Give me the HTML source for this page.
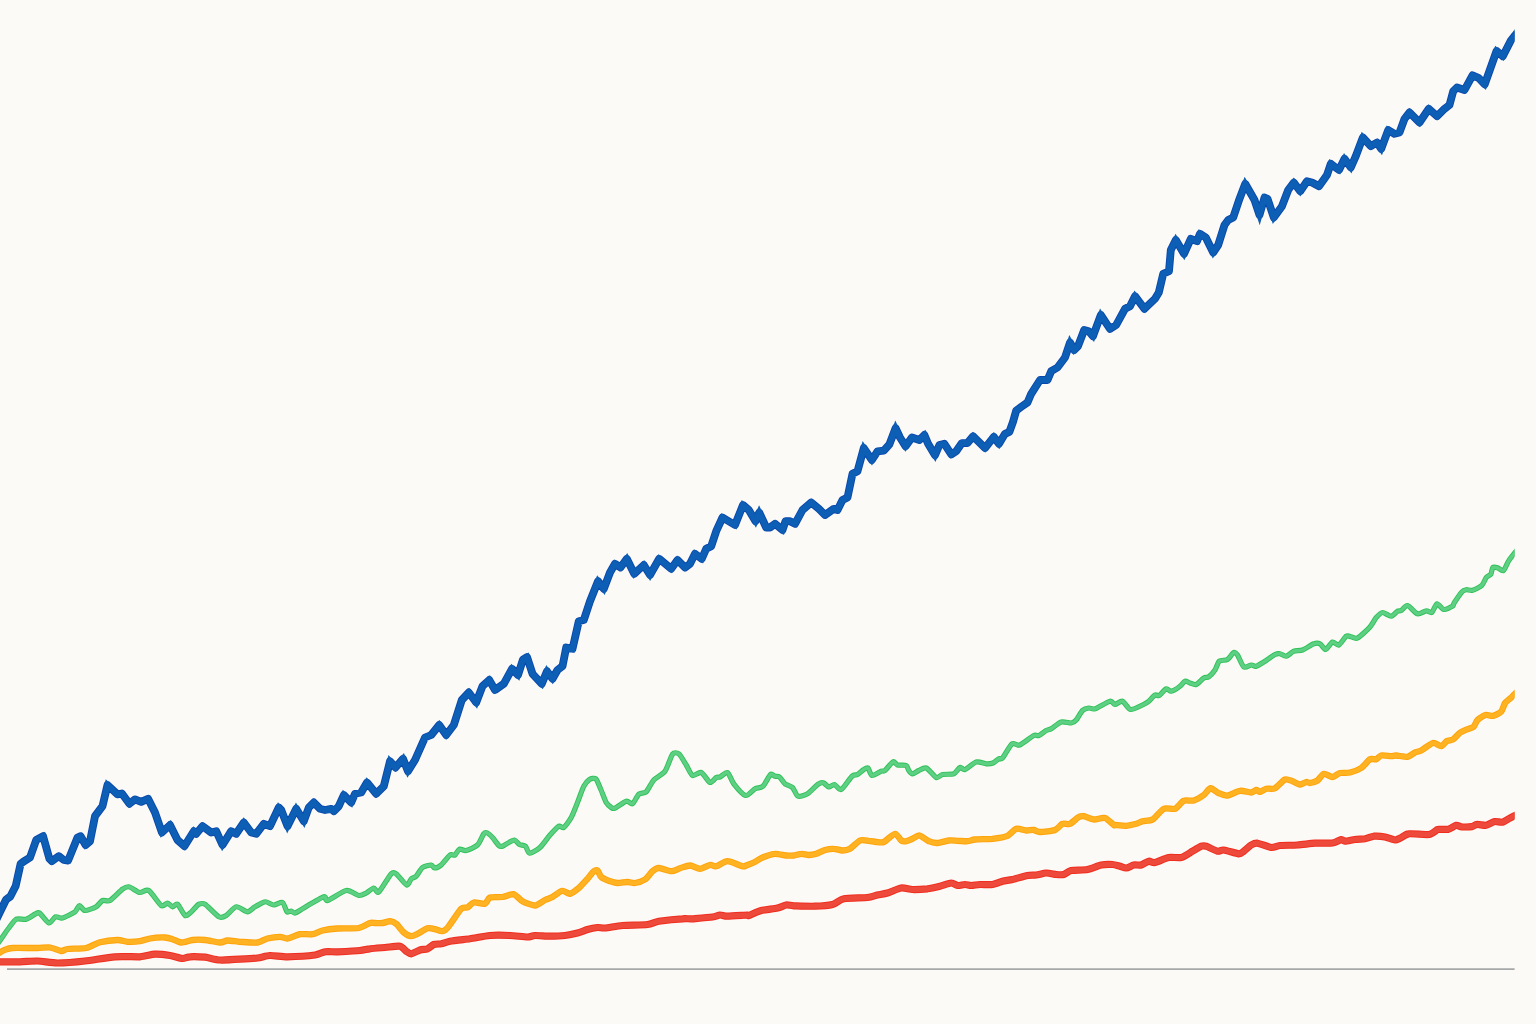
<!DOCTYPE html>
<html>
<head>
<meta charset="utf-8">
<title>Line chart</title>
<style>
html,body{margin:0;padding:0;background:#FBFAF7;}
body{width:1536px;height:1024px;overflow:hidden;font-family:"Liberation Sans",sans-serif;}
svg{display:block;position:absolute;left:0;top:0;}
.l{fill:none;stroke-linecap:butt;}
</style>
</head>
<body>
<svg width="1536" height="1024" viewBox="0 0 1536 1024">
<defs><clipPath id="c"><rect x="0" y="0" width="1514.6" height="1024"/></clipPath></defs>
<rect x="0" y="0" width="1536" height="1024" fill="#FBFAF7"/>
<line x1="7" y1="969.1" x2="1514.6" y2="969.1" stroke="#A6A7A8" stroke-width="1.9"/>
<g clip-path="url(#c)">
<path class="l" d="M-6.0,961.8 C-5.3,961.8 -3.1,961.8 0.0,961.8 C3.1,961.8 15.5,961.8 20.0,961.8 C24.5,961.7 33.0,960.9 37.5,961.0 C42.0,961.1 51.8,963.0 57.5,963.0 C63.2,963.0 78.1,961.8 85.0,961.0 C91.9,960.2 108.4,957.3 115.0,956.8 C121.6,956.2 135.2,957.0 140.0,956.8 C144.8,956.5 151.4,954.4 155.0,954.2 C158.6,954.1 166.7,955.0 170.0,955.5 C173.3,956.0 180.1,958.4 182.5,958.5 C184.9,958.6 187.3,956.9 190.0,956.8 C192.7,956.6 201.4,956.9 205.0,957.2 C208.6,957.6 215.8,959.8 220.0,960.0 C224.2,960.2 235.5,959.5 240.0,959.2 C244.5,959.0 253.9,958.5 257.5,958.0 C261.1,957.5 266.4,955.6 270.0,955.5 C273.6,955.4 282.1,956.8 287.5,956.8 C292.9,956.7 310.5,955.6 315.0,955.0 C319.5,954.4 322.3,952.1 325.0,951.8 C327.7,951.4 333.3,951.9 337.5,951.8 C341.7,951.6 356.1,950.9 360.0,950.5 C363.9,950.1 367.0,949.1 370.0,948.8 C373.0,948.4 381.4,947.8 385.0,947.5 C388.6,947.2 397.4,945.8 400.0,946.2 C402.6,946.7 404.9,950.4 406.2,951.2 C407.6,952.1 409.6,953.9 411.2,953.8 C412.9,953.6 418.1,950.6 420.0,950.0 C421.9,949.4 425.9,949.4 427.5,948.8 C429.1,948.1 432.1,945.1 433.8,944.5 C435.4,943.9 439.3,944.1 441.2,943.8 C443.2,943.4 446.6,941.9 450.0,941.2 C453.4,940.6 465.2,939.4 470.0,938.8 C474.8,938.1 485.2,935.9 490.0,935.5 C494.8,935.1 505.5,935.3 510.0,935.5 C514.5,935.7 524.5,937.0 527.5,937.0 C530.5,937.0 532.3,935.6 535.0,935.5 C537.7,935.4 546.4,936.2 550.0,936.2 C553.6,936.2 561.7,935.9 565.0,935.5 C568.3,935.1 574.8,933.7 577.5,933.0 C580.2,932.3 585.1,930.2 587.5,929.5 C589.9,928.8 595.4,927.7 597.5,927.5 C599.6,927.3 602.0,928.2 605.0,928.0 C608.0,927.8 617.4,925.9 622.5,925.5 C627.6,925.1 643.1,925.0 647.5,924.5 C651.9,924.0 654.5,921.9 658.8,921.2 C663.0,920.6 678.5,919.0 682.5,918.8 C686.5,918.5 688.9,919.0 692.5,918.8 C696.1,918.5 709.2,917.5 712.5,917.0 C715.8,916.5 718.2,915.1 720.0,915.0 C721.8,914.9 724.2,916.2 727.5,916.2 C730.8,916.2 745.0,915.1 747.5,915.0 C750.0,914.9 747.1,916.0 748.8,915.5 C750.4,915.0 757.8,911.4 761.2,910.5 C764.7,909.6 774.5,908.7 777.5,908.0 C780.5,907.3 784.3,905.3 786.2,905.0 C788.2,904.7 790.3,905.6 793.8,905.8 C797.2,905.9 810.4,906.4 815.0,906.2 C819.6,906.1 829.0,905.4 832.5,904.5 C836.0,903.6 839.5,899.6 843.8,898.8 C848.0,897.9 863.5,898.0 867.5,897.5 C871.5,897.0 875.1,895.5 877.5,895.0 C879.9,894.5 884.6,893.8 887.5,893.0 C890.4,892.2 898.2,888.4 901.2,888.0 C904.2,887.6 909.4,889.4 912.5,889.5 C915.6,889.6 924.2,889.1 927.5,888.8 C930.8,888.4 937.1,886.9 940.0,886.2 C942.9,885.6 949.1,883.1 951.2,883.0 C953.4,882.9 955.9,885.3 957.5,885.5 C959.1,885.7 963.4,884.5 965.0,884.5 C966.6,884.5 969.5,885.5 971.2,885.5 C973.0,885.5 977.5,884.6 980.0,884.5 C982.5,884.4 989.8,884.9 992.5,884.5 C995.2,884.1 1000.1,881.9 1002.5,881.2 C1004.9,880.6 1009.5,880.2 1012.5,879.5 C1015.5,878.8 1024.7,876.0 1027.5,875.5 C1030.3,875.0 1034.0,875.3 1036.2,875.0 C1038.5,874.7 1043.8,873.1 1046.2,873.0 C1048.7,872.9 1054.2,874.3 1056.2,874.5 C1058.3,874.7 1062.0,875.0 1063.8,874.5 C1065.5,874.0 1068.4,871.1 1071.2,870.5 C1074.1,869.9 1083.9,870.2 1087.5,869.5 C1091.1,868.8 1098.2,865.6 1101.2,865.0 C1104.2,864.4 1110.2,864.4 1112.5,864.5 C1114.8,864.6 1118.3,865.8 1120.0,866.2 C1121.7,866.7 1124.6,868.1 1126.2,868.0 C1127.9,867.9 1132.0,865.4 1133.8,865.0 C1135.5,864.6 1139.5,865.5 1141.2,865.0 C1143.0,864.5 1147.1,861.5 1148.8,861.2 C1150.4,861.0 1152.6,863.0 1155.0,862.5 C1157.4,862.0 1165.6,858.1 1168.8,857.5 C1171.9,856.9 1178.4,858.2 1181.2,857.5 C1184.1,856.8 1190.1,852.6 1192.5,851.2 C1194.9,849.9 1199.6,846.9 1201.2,846.2 C1202.9,845.6 1204.3,845.6 1206.2,846.2 C1208.2,846.9 1215.4,850.8 1217.5,851.2 C1219.6,851.7 1221.2,849.7 1223.8,850.0 C1226.3,850.3 1236.3,853.6 1238.8,853.8 C1241.2,853.9 1242.2,852.3 1243.8,851.2 C1245.2,850.2 1249.6,846.0 1251.2,845.0 C1252.9,844.0 1255.1,843.0 1257.5,843.2 C1259.9,843.5 1268.5,847.2 1271.2,847.5 C1274.0,847.8 1276.8,845.8 1280.0,845.5 C1283.2,845.2 1293.3,845.3 1297.5,845.0 C1301.7,844.7 1310.8,843.5 1315.0,843.2 C1319.2,843.0 1329.3,843.5 1332.5,843.0 C1335.7,842.5 1339.8,839.7 1341.2,839.5 C1342.8,839.3 1343.3,841.2 1345.0,841.2 C1346.7,841.2 1352.6,839.8 1355.0,839.5 C1357.4,839.2 1362.8,839.1 1365.0,838.8 C1367.2,838.4 1371.3,836.5 1373.8,836.2 C1376.2,836.0 1382.5,836.5 1385.0,837.0 C1387.5,837.5 1393.2,839.9 1395.0,840.0 C1396.8,840.1 1398.3,839.0 1400.0,838.2 C1401.7,837.5 1405.3,834.2 1408.8,833.8 C1412.2,833.3 1425.3,835.0 1428.8,834.5 C1432.2,834.0 1436.2,830.1 1437.5,829.5 C1438.8,828.9 1438.7,829.4 1440.0,829.4 C1441.3,829.3 1446.8,829.5 1448.8,829.1 C1450.7,828.6 1454.7,825.6 1456.2,825.3 C1457.8,825.0 1460.0,826.7 1461.9,826.9 C1463.8,827.0 1470.1,826.9 1471.9,826.6 C1473.7,826.3 1475.2,824.5 1476.9,824.4 C1478.6,824.2 1484.2,825.6 1486.2,825.3 C1488.3,825.0 1492.4,821.9 1494.4,821.6 C1496.3,821.2 1500.7,822.6 1502.5,822.2 C1504.3,821.8 1507.9,819.2 1509.4,818.4 C1510.8,817.6 1513.3,816.4 1514.7,815.6 C1516.1,814.9 1520.5,812.6 1521.2,812.2" stroke="#EF2E20" stroke-width="7.2" stroke-linejoin="round"/>
<path class="l" d="M-6.0,961.8 C-5.3,961.8 -3.1,961.8 0.0,961.8 C3.1,961.8 15.5,961.8 20.0,961.8 C24.5,961.7 33.0,960.9 37.5,961.0 C42.0,961.1 51.8,963.0 57.5,963.0 C63.2,963.0 78.1,961.8 85.0,961.0 C91.9,960.2 108.4,957.3 115.0,956.8 C121.6,956.2 135.2,957.0 140.0,956.8 C144.8,956.5 151.4,954.4 155.0,954.2 C158.6,954.1 166.7,955.0 170.0,955.5 C173.3,956.0 180.1,958.4 182.5,958.5 C184.9,958.6 187.3,956.9 190.0,956.8 C192.7,956.6 201.4,956.9 205.0,957.2 C208.6,957.6 215.8,959.8 220.0,960.0 C224.2,960.2 235.5,959.5 240.0,959.2 C244.5,959.0 253.9,958.5 257.5,958.0 C261.1,957.5 266.4,955.6 270.0,955.5 C273.6,955.4 282.1,956.8 287.5,956.8 C292.9,956.7 310.5,955.6 315.0,955.0 C319.5,954.4 322.3,952.1 325.0,951.8 C327.7,951.4 333.3,951.9 337.5,951.8 C341.7,951.6 356.1,950.9 360.0,950.5 C363.9,950.1 367.0,949.1 370.0,948.8 C373.0,948.4 381.4,947.8 385.0,947.5 C388.6,947.2 397.4,945.8 400.0,946.2 C402.6,946.7 404.9,950.4 406.2,951.2 C407.6,952.1 409.6,953.9 411.2,953.8 C412.9,953.6 418.1,950.6 420.0,950.0 C421.9,949.4 425.9,949.4 427.5,948.8 C429.1,948.1 432.1,945.1 433.8,944.5 C435.4,943.9 439.3,944.1 441.2,943.8 C443.2,943.4 446.6,941.9 450.0,941.2 C453.4,940.6 465.2,939.4 470.0,938.8 C474.8,938.1 485.2,935.9 490.0,935.5 C494.8,935.1 505.5,935.3 510.0,935.5 C514.5,935.7 524.5,937.0 527.5,937.0 C530.5,937.0 532.3,935.6 535.0,935.5 C537.7,935.4 546.4,936.2 550.0,936.2 C553.6,936.2 561.7,935.9 565.0,935.5 C568.3,935.1 574.8,933.7 577.5,933.0 C580.2,932.3 585.1,930.2 587.5,929.5 C589.9,928.8 595.4,927.7 597.5,927.5 C599.6,927.3 602.0,928.2 605.0,928.0 C608.0,927.8 617.4,925.9 622.5,925.5 C627.6,925.1 643.1,925.0 647.5,924.5 C651.9,924.0 654.5,921.9 658.8,921.2 C663.0,920.6 678.5,919.0 682.5,918.8 C686.5,918.5 688.9,919.0 692.5,918.8 C696.1,918.5 709.2,917.5 712.5,917.0 C715.8,916.5 718.2,915.1 720.0,915.0 C721.8,914.9 724.2,916.2 727.5,916.2 C730.8,916.2 745.0,915.1 747.5,915.0 C750.0,914.9 747.1,916.0 748.8,915.5 C750.4,915.0 757.8,911.4 761.2,910.5 C764.7,909.6 774.5,908.7 777.5,908.0 C780.5,907.3 784.3,905.3 786.2,905.0 C788.2,904.7 790.3,905.6 793.8,905.8 C797.2,905.9 810.4,906.4 815.0,906.2 C819.6,906.1 829.0,905.4 832.5,904.5 C836.0,903.6 839.5,899.6 843.8,898.8 C848.0,897.9 863.5,898.0 867.5,897.5 C871.5,897.0 875.1,895.5 877.5,895.0 C879.9,894.5 884.6,893.8 887.5,893.0 C890.4,892.2 898.2,888.4 901.2,888.0 C904.2,887.6 909.4,889.4 912.5,889.5 C915.6,889.6 924.2,889.1 927.5,888.8 C930.8,888.4 937.1,886.9 940.0,886.2 C942.9,885.6 949.1,883.1 951.2,883.0 C953.4,882.9 955.9,885.3 957.5,885.5 C959.1,885.7 963.4,884.5 965.0,884.5 C966.6,884.5 969.5,885.5 971.2,885.5 C973.0,885.5 977.5,884.6 980.0,884.5 C982.5,884.4 989.8,884.9 992.5,884.5 C995.2,884.1 1000.1,881.9 1002.5,881.2 C1004.9,880.6 1009.5,880.2 1012.5,879.5 C1015.5,878.8 1024.7,876.0 1027.5,875.5 C1030.3,875.0 1034.0,875.3 1036.2,875.0 C1038.5,874.7 1043.8,873.1 1046.2,873.0 C1048.7,872.9 1054.2,874.3 1056.2,874.5 C1058.3,874.7 1062.0,875.0 1063.8,874.5 C1065.5,874.0 1068.4,871.1 1071.2,870.5 C1074.1,869.9 1083.9,870.2 1087.5,869.5 C1091.1,868.8 1098.2,865.6 1101.2,865.0 C1104.2,864.4 1110.2,864.4 1112.5,864.5 C1114.8,864.6 1118.3,865.8 1120.0,866.2 C1121.7,866.7 1124.6,868.1 1126.2,868.0 C1127.9,867.9 1132.0,865.4 1133.8,865.0 C1135.5,864.6 1139.5,865.5 1141.2,865.0 C1143.0,864.5 1147.1,861.5 1148.8,861.2 C1150.4,861.0 1152.6,863.0 1155.0,862.5 C1157.4,862.0 1165.6,858.1 1168.8,857.5 C1171.9,856.9 1178.4,858.2 1181.2,857.5 C1184.1,856.8 1190.1,852.6 1192.5,851.2 C1194.9,849.9 1199.6,846.9 1201.2,846.2 C1202.9,845.6 1204.3,845.6 1206.2,846.2 C1208.2,846.9 1215.4,850.8 1217.5,851.2 C1219.6,851.7 1221.2,849.7 1223.8,850.0 C1226.3,850.3 1236.3,853.6 1238.8,853.8 C1241.2,853.9 1242.2,852.3 1243.8,851.2 C1245.2,850.2 1249.6,846.0 1251.2,845.0 C1252.9,844.0 1255.1,843.0 1257.5,843.2 C1259.9,843.5 1268.5,847.2 1271.2,847.5 C1274.0,847.8 1276.8,845.8 1280.0,845.5 C1283.2,845.2 1293.3,845.3 1297.5,845.0 C1301.7,844.7 1310.8,843.5 1315.0,843.2 C1319.2,843.0 1329.3,843.5 1332.5,843.0 C1335.7,842.5 1339.8,839.7 1341.2,839.5 C1342.8,839.3 1343.3,841.2 1345.0,841.2 C1346.7,841.2 1352.6,839.8 1355.0,839.5 C1357.4,839.2 1362.8,839.1 1365.0,838.8 C1367.2,838.4 1371.3,836.5 1373.8,836.2 C1376.2,836.0 1382.5,836.5 1385.0,837.0 C1387.5,837.5 1393.2,839.9 1395.0,840.0 C1396.8,840.1 1398.3,839.0 1400.0,838.2 C1401.7,837.5 1405.3,834.2 1408.8,833.8 C1412.2,833.3 1425.3,835.0 1428.8,834.5 C1432.2,834.0 1436.2,830.1 1437.5,829.5 C1438.8,828.9 1438.7,829.4 1440.0,829.4 C1441.3,829.3 1446.8,829.5 1448.8,829.1 C1450.7,828.6 1454.7,825.6 1456.2,825.3 C1457.8,825.0 1460.0,826.7 1461.9,826.9 C1463.8,827.0 1470.1,826.9 1471.9,826.6 C1473.7,826.3 1475.2,824.5 1476.9,824.4 C1478.6,824.2 1484.2,825.6 1486.2,825.3 C1488.3,825.0 1492.4,821.9 1494.4,821.6 C1496.3,821.2 1500.7,822.6 1502.5,822.2 C1504.3,821.8 1507.9,819.2 1509.4,818.4 C1510.8,817.6 1513.3,816.4 1514.7,815.6 C1516.1,814.9 1520.5,812.6 1521.2,812.2" stroke="#EE4A3B" stroke-width="5.2" stroke-linejoin="round"/>
<path class="l" d="M-6.0,955.8 C-5.3,955.4 -1.3,953.2 0.0,952.5 C1.3,951.8 3.5,950.3 5.0,949.8 C6.5,949.2 8.6,948.2 12.5,948.0 C16.4,947.8 33.0,948.1 37.5,948.0 C42.0,947.9 47.1,947.1 50.0,947.5 C52.9,947.9 59.1,950.8 61.2,951.0 C63.4,951.2 64.5,949.4 67.5,949.0 C70.5,948.6 82.3,948.8 86.2,948.0 C90.2,947.2 96.2,943.2 100.0,942.2 C103.8,941.3 114.2,940.1 117.5,940.0 C120.8,939.9 124.8,941.6 127.5,941.8 C130.2,941.9 137.3,941.6 140.0,941.2 C142.7,940.9 147.0,939.0 150.0,938.5 C153.0,938.0 162.3,937.4 165.0,937.5 C167.7,937.6 170.6,938.6 172.5,939.2 C174.4,939.9 178.8,942.4 181.2,942.5 C183.7,942.6 189.7,940.3 192.5,940.0 C195.3,939.7 201.7,939.7 205.0,940.0 C208.3,940.3 217.3,942.4 220.0,942.5 C222.7,942.6 225.1,940.6 227.5,940.5 C229.9,940.4 236.4,941.5 240.0,941.8 C243.6,942.0 254.2,942.9 257.5,942.5 C260.8,942.1 264.8,939.2 267.5,938.5 C270.2,937.8 277.6,936.8 280.0,936.8 C282.4,936.8 285.1,938.8 287.5,938.5 C289.9,938.2 297.0,934.8 300.0,934.2 C303.0,933.7 309.8,934.7 312.5,934.2 C315.2,933.8 319.5,931.2 322.5,930.5 C325.5,929.8 333.1,928.8 337.5,928.5 C341.9,928.2 354.9,928.7 358.8,928.0 C362.6,927.3 368.1,923.6 370.0,923.0 C371.9,922.4 373.5,923.0 375.0,923.0 C376.5,923.0 380.7,923.2 382.5,923.0 C384.3,922.8 388.4,921.2 390.0,921.2 C391.6,921.3 394.6,922.4 396.2,923.8 C397.9,925.1 401.9,931.0 403.8,932.5 C405.6,934.0 409.6,936.1 411.2,936.2 C412.9,936.4 415.6,934.7 417.5,933.8 C419.4,932.8 425.6,928.9 427.5,928.2 C429.4,927.6 431.9,928.4 433.8,928.8 C435.6,929.1 440.7,931.5 442.5,931.2 C444.3,931.0 446.5,929.0 448.8,926.2 C451.0,923.5 459.0,911.0 461.2,908.8 C463.5,906.5 466.0,908.2 467.5,907.5 C469.0,906.8 471.6,903.0 473.8,902.5 C475.9,902.0 483.1,904.4 485.0,903.8 C486.9,903.1 487.9,898.3 490.0,897.5 C492.1,896.7 499.6,897.4 502.5,897.0 C505.4,896.6 511.4,893.7 513.8,894.2 C516.1,894.8 520.0,899.9 522.5,901.2 C525.0,902.6 532.3,905.6 535.0,905.5 C537.7,905.4 542.9,901.0 545.0,900.0 C547.1,899.0 550.5,898.1 552.5,897.0 C554.5,895.9 559.9,891.1 562.0,890.8 C564.1,890.4 568.0,894.1 570.0,893.8 C572.0,893.4 576.6,889.8 578.8,888.0 C580.9,886.2 585.7,880.8 587.5,878.8 C589.3,876.7 592.5,872.2 593.8,871.2 C595.0,870.3 596.6,869.8 597.5,870.5 C598.4,871.2 599.8,875.7 601.2,877.0 C602.8,878.3 608.0,880.5 610.0,881.2 C612.0,882.0 615.4,882.9 617.5,883.0 C619.6,883.1 625.4,882.0 627.5,882.0 C629.6,882.0 632.9,883.3 635.0,883.0 C637.1,882.7 642.9,880.9 645.0,879.5 C647.1,878.1 650.9,872.6 652.5,871.2 C654.1,869.9 656.5,868.0 658.8,868.0 C661.0,868.0 668.7,871.2 671.2,871.2 C673.8,871.3 677.8,868.9 680.0,868.2 C682.2,867.6 687.6,865.4 690.0,865.5 C692.4,865.6 697.6,868.8 700.0,868.8 C702.4,868.7 708.0,865.3 710.0,865.0 C712.0,864.7 714.1,866.7 716.2,866.2 C718.4,865.8 724.4,861.2 727.5,861.2 C730.6,861.2 740.2,865.7 742.5,866.2 C744.8,866.8 744.9,866.0 746.2,865.5 C747.6,865.0 751.6,863.5 753.8,862.5 C755.9,861.5 761.2,858.0 763.8,857.0 C766.3,856.0 772.3,853.9 775.0,853.8 C777.7,853.6 784.0,855.3 786.2,855.5 C788.5,855.7 792.0,855.7 793.8,855.5 C795.5,855.3 799.5,853.8 801.2,853.8 C803.0,853.7 807.0,855.0 808.8,855.0 C810.5,855.0 814.3,854.4 816.2,853.8 C818.2,853.1 822.9,850.6 825.0,850.0 C827.1,849.4 831.6,848.7 833.8,848.8 C835.9,848.8 840.5,850.5 842.5,850.5 C844.5,850.5 847.9,850.0 850.0,848.8 C852.1,847.5 857.8,841.5 860.0,840.5 C862.2,839.5 866.8,840.6 868.8,840.8 C870.7,840.9 874.5,841.9 876.2,842.0 C878.0,842.1 881.5,843.0 883.8,842.0 C886.0,841.0 892.9,833.9 895.0,833.8 C897.1,833.6 899.9,839.6 901.2,840.5 C902.6,841.4 904.9,841.5 906.2,841.2 C907.6,841.0 910.9,839.4 912.5,838.8 C914.1,838.1 917.5,835.2 919.5,835.5 C921.5,835.8 926.6,840.4 928.8,841.2 C930.9,842.1 935.1,843.1 937.5,843.0 C939.9,842.9 946.4,840.8 948.8,840.5 C951.1,840.2 955.2,840.7 957.5,840.8 C959.8,840.8 965.4,841.4 967.5,841.2 C969.6,841.1 972.0,839.8 975.0,839.5 C978.0,839.2 988.6,839.2 992.5,838.8 C996.4,838.3 1004.6,837.0 1007.5,835.8 C1010.4,834.5 1014.0,829.4 1016.2,828.8 C1018.5,828.1 1024.2,830.4 1026.2,830.5 C1028.3,830.6 1032.1,829.8 1033.8,830.0 C1035.4,830.2 1037.5,832.0 1040.0,832.0 C1042.5,832.0 1052.3,831.0 1055.0,830.0 C1057.7,829.0 1060.7,824.5 1062.5,823.8 C1064.3,823.0 1068.0,824.6 1070.0,823.8 C1072.0,822.9 1077.1,817.9 1078.8,817.0 C1080.4,816.1 1082.0,816.0 1083.8,816.2 C1085.5,816.5 1091.2,819.3 1093.8,819.5 C1096.3,819.7 1102.6,817.3 1105.0,818.0 C1107.4,818.7 1112.5,824.2 1113.8,825.0 C1115.0,825.8 1113.5,824.9 1115.0,825.0 C1116.5,825.1 1123.7,825.9 1126.2,825.8 C1128.8,825.6 1134.3,824.3 1136.2,823.8 C1138.2,823.2 1140.5,821.8 1142.5,821.2 C1144.5,820.7 1150.0,821.0 1152.5,819.5 C1155.0,818.0 1161.0,810.0 1163.8,808.8 C1166.5,807.5 1172.6,809.7 1175.0,808.8 C1177.4,807.8 1181.5,801.7 1183.8,800.8 C1186.0,799.8 1191.3,801.2 1193.8,800.5 C1196.2,799.8 1201.7,796.5 1203.8,795.0 C1205.8,793.5 1208.7,788.5 1210.5,788.2 C1212.3,788.0 1216.7,792.4 1218.8,793.2 C1220.8,794.1 1225.0,795.8 1227.5,795.5 C1230.0,795.2 1237.2,791.1 1240.0,790.8 C1242.8,790.4 1249.3,792.6 1251.2,792.5 C1253.2,792.4 1255.2,790.1 1256.2,790.0 C1257.3,789.9 1258.8,791.9 1260.0,791.8 C1261.2,791.6 1264.5,789.2 1266.2,788.8 C1268.0,788.3 1272.8,789.4 1275.0,788.2 C1277.2,787.1 1282.9,780.3 1285.0,779.5 C1287.1,778.7 1290.7,780.6 1292.5,781.2 C1294.3,781.9 1298.3,784.4 1300.0,784.5 C1301.7,784.6 1305.0,782.2 1306.2,782.0 C1307.5,781.8 1308.7,783.2 1310.0,783.0 C1311.3,782.8 1315.8,781.6 1317.5,780.5 C1319.2,779.4 1322.0,774.2 1323.8,773.8 C1325.5,773.3 1330.5,777.1 1332.5,777.0 C1334.5,776.9 1337.9,773.5 1340.0,773.0 C1342.1,772.5 1347.5,773.1 1350.0,772.5 C1352.5,771.9 1358.8,769.6 1361.2,768.0 C1363.7,766.4 1368.2,760.3 1370.0,759.2 C1371.8,758.2 1374.9,759.7 1376.2,759.2 C1377.6,758.8 1379.5,755.9 1381.2,755.5 C1383.0,755.1 1389.5,756.2 1391.2,756.2 C1393.0,756.2 1394.3,755.4 1396.2,755.5 C1398.2,755.6 1405.2,757.1 1407.5,756.8 C1409.8,756.4 1413.3,753.2 1415.0,752.5 C1416.7,751.8 1419.1,751.6 1421.2,750.5 C1423.4,749.4 1430.6,743.5 1433.0,743.0 C1435.4,742.5 1439.6,746.5 1441.2,746.2 C1442.9,746.0 1445.5,741.8 1446.9,740.9 C1448.3,740.1 1451.5,740.4 1453.1,739.4 C1454.7,738.4 1458.3,734.0 1460.0,732.8 C1461.7,731.6 1465.2,730.1 1466.9,729.4 C1468.5,728.6 1472.5,727.7 1473.8,726.6 C1475.0,725.4 1476.1,721.4 1477.5,720.0 C1478.9,718.6 1483.8,715.5 1485.6,715.0 C1487.5,714.5 1491.2,716.4 1493.1,715.9 C1495.0,715.5 1499.8,713.1 1501.2,711.6 C1502.7,710.0 1503.9,704.7 1505.0,703.1 C1506.1,701.5 1509.5,699.2 1510.6,698.1 C1511.8,697.0 1513.4,695.3 1514.7,694.1 C1516.0,692.8 1520.5,688.3 1521.2,687.5" stroke="#FFA208" stroke-width="6.3" stroke-linejoin="round"/>
<path class="l" d="M-6.0,955.8 C-5.3,955.4 -1.3,953.2 0.0,952.5 C1.3,951.8 3.5,950.3 5.0,949.8 C6.5,949.2 8.6,948.2 12.5,948.0 C16.4,947.8 33.0,948.1 37.5,948.0 C42.0,947.9 47.1,947.1 50.0,947.5 C52.9,947.9 59.1,950.8 61.2,951.0 C63.4,951.2 64.5,949.4 67.5,949.0 C70.5,948.6 82.3,948.8 86.2,948.0 C90.2,947.2 96.2,943.2 100.0,942.2 C103.8,941.3 114.2,940.1 117.5,940.0 C120.8,939.9 124.8,941.6 127.5,941.8 C130.2,941.9 137.3,941.6 140.0,941.2 C142.7,940.9 147.0,939.0 150.0,938.5 C153.0,938.0 162.3,937.4 165.0,937.5 C167.7,937.6 170.6,938.6 172.5,939.2 C174.4,939.9 178.8,942.4 181.2,942.5 C183.7,942.6 189.7,940.3 192.5,940.0 C195.3,939.7 201.7,939.7 205.0,940.0 C208.3,940.3 217.3,942.4 220.0,942.5 C222.7,942.6 225.1,940.6 227.5,940.5 C229.9,940.4 236.4,941.5 240.0,941.8 C243.6,942.0 254.2,942.9 257.5,942.5 C260.8,942.1 264.8,939.2 267.5,938.5 C270.2,937.8 277.6,936.8 280.0,936.8 C282.4,936.8 285.1,938.8 287.5,938.5 C289.9,938.2 297.0,934.8 300.0,934.2 C303.0,933.7 309.8,934.7 312.5,934.2 C315.2,933.8 319.5,931.2 322.5,930.5 C325.5,929.8 333.1,928.8 337.5,928.5 C341.9,928.2 354.9,928.7 358.8,928.0 C362.6,927.3 368.1,923.6 370.0,923.0 C371.9,922.4 373.5,923.0 375.0,923.0 C376.5,923.0 380.7,923.2 382.5,923.0 C384.3,922.8 388.4,921.2 390.0,921.2 C391.6,921.3 394.6,922.4 396.2,923.8 C397.9,925.1 401.9,931.0 403.8,932.5 C405.6,934.0 409.6,936.1 411.2,936.2 C412.9,936.4 415.6,934.7 417.5,933.8 C419.4,932.8 425.6,928.9 427.5,928.2 C429.4,927.6 431.9,928.4 433.8,928.8 C435.6,929.1 440.7,931.5 442.5,931.2 C444.3,931.0 446.5,929.0 448.8,926.2 C451.0,923.5 459.0,911.0 461.2,908.8 C463.5,906.5 466.0,908.2 467.5,907.5 C469.0,906.8 471.6,903.0 473.8,902.5 C475.9,902.0 483.1,904.4 485.0,903.8 C486.9,903.1 487.9,898.3 490.0,897.5 C492.1,896.7 499.6,897.4 502.5,897.0 C505.4,896.6 511.4,893.7 513.8,894.2 C516.1,894.8 520.0,899.9 522.5,901.2 C525.0,902.6 532.3,905.6 535.0,905.5 C537.7,905.4 542.9,901.0 545.0,900.0 C547.1,899.0 550.5,898.1 552.5,897.0 C554.5,895.9 559.9,891.1 562.0,890.8 C564.1,890.4 568.0,894.1 570.0,893.8 C572.0,893.4 576.6,889.8 578.8,888.0 C580.9,886.2 585.7,880.8 587.5,878.8 C589.3,876.7 592.5,872.2 593.8,871.2 C595.0,870.3 596.6,869.8 597.5,870.5 C598.4,871.2 599.8,875.7 601.2,877.0 C602.8,878.3 608.0,880.5 610.0,881.2 C612.0,882.0 615.4,882.9 617.5,883.0 C619.6,883.1 625.4,882.0 627.5,882.0 C629.6,882.0 632.9,883.3 635.0,883.0 C637.1,882.7 642.9,880.9 645.0,879.5 C647.1,878.1 650.9,872.6 652.5,871.2 C654.1,869.9 656.5,868.0 658.8,868.0 C661.0,868.0 668.7,871.2 671.2,871.2 C673.8,871.3 677.8,868.9 680.0,868.2 C682.2,867.6 687.6,865.4 690.0,865.5 C692.4,865.6 697.6,868.8 700.0,868.8 C702.4,868.7 708.0,865.3 710.0,865.0 C712.0,864.7 714.1,866.7 716.2,866.2 C718.4,865.8 724.4,861.2 727.5,861.2 C730.6,861.2 740.2,865.7 742.5,866.2 C744.8,866.8 744.9,866.0 746.2,865.5 C747.6,865.0 751.6,863.5 753.8,862.5 C755.9,861.5 761.2,858.0 763.8,857.0 C766.3,856.0 772.3,853.9 775.0,853.8 C777.7,853.6 784.0,855.3 786.2,855.5 C788.5,855.7 792.0,855.7 793.8,855.5 C795.5,855.3 799.5,853.8 801.2,853.8 C803.0,853.7 807.0,855.0 808.8,855.0 C810.5,855.0 814.3,854.4 816.2,853.8 C818.2,853.1 822.9,850.6 825.0,850.0 C827.1,849.4 831.6,848.7 833.8,848.8 C835.9,848.8 840.5,850.5 842.5,850.5 C844.5,850.5 847.9,850.0 850.0,848.8 C852.1,847.5 857.8,841.5 860.0,840.5 C862.2,839.5 866.8,840.6 868.8,840.8 C870.7,840.9 874.5,841.9 876.2,842.0 C878.0,842.1 881.5,843.0 883.8,842.0 C886.0,841.0 892.9,833.9 895.0,833.8 C897.1,833.6 899.9,839.6 901.2,840.5 C902.6,841.4 904.9,841.5 906.2,841.2 C907.6,841.0 910.9,839.4 912.5,838.8 C914.1,838.1 917.5,835.2 919.5,835.5 C921.5,835.8 926.6,840.4 928.8,841.2 C930.9,842.1 935.1,843.1 937.5,843.0 C939.9,842.9 946.4,840.8 948.8,840.5 C951.1,840.2 955.2,840.7 957.5,840.8 C959.8,840.8 965.4,841.4 967.5,841.2 C969.6,841.1 972.0,839.8 975.0,839.5 C978.0,839.2 988.6,839.2 992.5,838.8 C996.4,838.3 1004.6,837.0 1007.5,835.8 C1010.4,834.5 1014.0,829.4 1016.2,828.8 C1018.5,828.1 1024.2,830.4 1026.2,830.5 C1028.3,830.6 1032.1,829.8 1033.8,830.0 C1035.4,830.2 1037.5,832.0 1040.0,832.0 C1042.5,832.0 1052.3,831.0 1055.0,830.0 C1057.7,829.0 1060.7,824.5 1062.5,823.8 C1064.3,823.0 1068.0,824.6 1070.0,823.8 C1072.0,822.9 1077.1,817.9 1078.8,817.0 C1080.4,816.1 1082.0,816.0 1083.8,816.2 C1085.5,816.5 1091.2,819.3 1093.8,819.5 C1096.3,819.7 1102.6,817.3 1105.0,818.0 C1107.4,818.7 1112.5,824.2 1113.8,825.0 C1115.0,825.8 1113.5,824.9 1115.0,825.0 C1116.5,825.1 1123.7,825.9 1126.2,825.8 C1128.8,825.6 1134.3,824.3 1136.2,823.8 C1138.2,823.2 1140.5,821.8 1142.5,821.2 C1144.5,820.7 1150.0,821.0 1152.5,819.5 C1155.0,818.0 1161.0,810.0 1163.8,808.8 C1166.5,807.5 1172.6,809.7 1175.0,808.8 C1177.4,807.8 1181.5,801.7 1183.8,800.8 C1186.0,799.8 1191.3,801.2 1193.8,800.5 C1196.2,799.8 1201.7,796.5 1203.8,795.0 C1205.8,793.5 1208.7,788.5 1210.5,788.2 C1212.3,788.0 1216.7,792.4 1218.8,793.2 C1220.8,794.1 1225.0,795.8 1227.5,795.5 C1230.0,795.2 1237.2,791.1 1240.0,790.8 C1242.8,790.4 1249.3,792.6 1251.2,792.5 C1253.2,792.4 1255.2,790.1 1256.2,790.0 C1257.3,789.9 1258.8,791.9 1260.0,791.8 C1261.2,791.6 1264.5,789.2 1266.2,788.8 C1268.0,788.3 1272.8,789.4 1275.0,788.2 C1277.2,787.1 1282.9,780.3 1285.0,779.5 C1287.1,778.7 1290.7,780.6 1292.5,781.2 C1294.3,781.9 1298.3,784.4 1300.0,784.5 C1301.7,784.6 1305.0,782.2 1306.2,782.0 C1307.5,781.8 1308.7,783.2 1310.0,783.0 C1311.3,782.8 1315.8,781.6 1317.5,780.5 C1319.2,779.4 1322.0,774.2 1323.8,773.8 C1325.5,773.3 1330.5,777.1 1332.5,777.0 C1334.5,776.9 1337.9,773.5 1340.0,773.0 C1342.1,772.5 1347.5,773.1 1350.0,772.5 C1352.5,771.9 1358.8,769.6 1361.2,768.0 C1363.7,766.4 1368.2,760.3 1370.0,759.2 C1371.8,758.2 1374.9,759.7 1376.2,759.2 C1377.6,758.8 1379.5,755.9 1381.2,755.5 C1383.0,755.1 1389.5,756.2 1391.2,756.2 C1393.0,756.2 1394.3,755.4 1396.2,755.5 C1398.2,755.6 1405.2,757.1 1407.5,756.8 C1409.8,756.4 1413.3,753.2 1415.0,752.5 C1416.7,751.8 1419.1,751.6 1421.2,750.5 C1423.4,749.4 1430.6,743.5 1433.0,743.0 C1435.4,742.5 1439.6,746.5 1441.2,746.2 C1442.9,746.0 1445.5,741.8 1446.9,740.9 C1448.3,740.1 1451.5,740.4 1453.1,739.4 C1454.7,738.4 1458.3,734.0 1460.0,732.8 C1461.7,731.6 1465.2,730.1 1466.9,729.4 C1468.5,728.6 1472.5,727.7 1473.8,726.6 C1475.0,725.4 1476.1,721.4 1477.5,720.0 C1478.9,718.6 1483.8,715.5 1485.6,715.0 C1487.5,714.5 1491.2,716.4 1493.1,715.9 C1495.0,715.5 1499.8,713.1 1501.2,711.6 C1502.7,710.0 1503.9,704.7 1505.0,703.1 C1506.1,701.5 1509.5,699.2 1510.6,698.1 C1511.8,697.0 1513.4,695.3 1514.7,694.1 C1516.0,692.8 1520.5,688.3 1521.2,687.5" stroke="#FFB222" stroke-width="4.5" stroke-linejoin="round"/>
<path class="l" d="M-6.0,949.1 C-5.3,948.0 -1.8,943.0 0.0,940.5 C1.8,938.0 6.8,930.5 8.8,928.0 C10.7,925.5 14.2,920.3 16.2,919.2 C18.4,918.2 24.0,919.9 26.2,919.2 C28.5,918.6 33.4,915.0 35.0,914.2 C36.6,913.5 37.9,912.0 39.5,913.0 C41.1,914.0 46.8,922.5 48.8,923.0 C50.7,923.5 53.9,917.4 55.5,916.8 C57.1,916.1 60.2,918.6 62.5,918.0 C64.8,917.4 73.0,913.2 75.0,911.8 C77.0,910.2 78.3,905.6 79.5,905.5 C80.7,905.4 83.0,910.4 85.0,910.5 C87.0,910.6 94.2,908.0 96.2,906.8 C98.3,905.5 100.8,901.2 102.5,900.5 C104.2,899.8 107.6,901.9 110.0,900.5 C112.4,899.1 120.2,890.9 122.5,889.2 C124.8,887.6 126.7,886.4 128.8,886.8 C130.8,887.1 137.1,892.0 139.5,892.5 C141.9,893.0 146.1,888.9 148.8,890.5 C151.4,892.1 159.0,904.0 161.2,905.5 C163.5,907.0 166.2,902.9 167.5,903.0 C168.8,903.1 171.3,906.6 172.5,906.8 C173.7,906.9 176.0,903.2 177.5,904.2 C179.0,905.3 183.5,914.5 185.0,915.5 C186.5,916.5 188.8,913.9 190.0,913.0 C191.2,912.1 193.9,909.0 195.0,908.0 C196.1,907.0 197.6,904.7 198.8,904.2 C199.9,903.8 202.6,902.8 205.0,904.2 C207.4,905.8 216.2,915.4 218.8,916.8 C221.3,918.1 224.2,916.7 226.2,915.5 C228.3,914.3 233.7,907.2 236.2,906.8 C238.8,906.3 245.2,911.8 247.5,911.8 C249.8,911.8 252.9,908.0 255.0,906.8 C257.1,905.5 262.8,902.0 265.0,901.8 C267.2,901.5 271.6,904.9 273.8,905.0 C275.9,905.1 280.9,901.7 282.5,902.5 C284.1,903.3 285.9,910.7 287.0,911.8 C288.1,912.8 290.3,910.9 291.2,911.0 C292.2,911.1 293.5,913.4 295.0,913.0 C296.5,912.6 300.3,910.0 303.8,908.0 C307.2,906.0 320.9,897.6 323.8,896.8 C326.6,895.9 324.8,901.2 327.5,900.5 C330.2,899.8 342.5,891.1 346.2,890.5 C350.0,889.9 356.4,895.2 358.8,895.5 C361.1,895.8 364.4,893.9 366.2,893.0 C368.1,892.1 372.2,888.1 373.8,888.0 C375.2,887.9 376.6,893.7 378.8,892.0 C380.9,890.3 389.1,875.9 391.2,873.8 C393.4,871.6 394.4,872.4 396.2,873.8 C398.1,875.1 404.9,884.4 406.8,885.0 C408.6,885.6 410.1,879.8 411.2,878.8 C412.4,877.7 414.9,877.6 416.2,876.2 C417.6,874.9 420.7,868.9 422.5,867.5 C424.3,866.1 429.8,864.9 431.2,865.0 C432.7,865.1 433.3,868.0 434.5,868.0 C435.7,868.0 439.4,866.6 441.2,865.0 C443.1,863.4 448.4,856.2 450.0,855.0 C451.6,853.8 453.9,855.7 455.0,855.0 C456.1,854.3 458.1,849.8 459.5,849.2 C460.9,848.7 464.1,851.0 466.2,850.5 C468.4,850.0 475.4,847.0 477.5,845.0 C479.6,843.0 482.6,835.2 483.8,833.8 C484.9,832.3 486.4,832.5 487.5,833.0 C488.6,833.5 491.1,836.0 492.5,837.5 C493.9,839.0 497.6,844.5 498.8,845.5 C499.9,846.5 501.3,846.6 502.5,846.2 C503.7,845.9 507.3,843.2 508.8,842.5 C510.2,841.8 513.2,839.8 514.5,840.0 C515.8,840.2 518.2,843.8 519.5,844.5 C520.8,845.2 524.3,845.2 525.5,846.2 C526.7,847.3 527.8,853.1 529.5,853.2 C531.2,853.4 537.5,849.7 540.0,847.5 C542.5,845.3 547.8,837.5 550.0,835.0 C552.2,832.5 557.1,827.1 558.8,826.2 C560.4,825.4 562.2,828.5 563.8,827.5 C565.2,826.5 569.6,820.5 571.2,817.5 C572.9,814.5 576.0,806.2 577.5,802.5 C579.0,798.8 582.3,789.0 583.8,786.2 C585.2,783.5 588.1,780.4 589.5,779.5 C590.9,778.6 594.4,777.6 595.8,778.8 C597.1,779.9 599.2,785.9 600.5,788.8 C601.8,791.6 605.0,800.2 606.2,802.5 C607.5,804.8 610.2,806.8 611.2,807.5 C612.3,808.2 613.2,809.0 615.0,808.2 C616.8,807.5 624.1,801.8 626.2,801.2 C628.4,800.7 631.0,804.6 632.5,803.8 C634.0,802.9 637.1,795.7 638.8,794.2 C640.4,792.8 644.5,793.5 646.2,791.8 C648.0,790.0 651.5,782.5 653.8,780.0 C656.0,777.5 662.8,774.3 665.0,771.2 C667.2,768.2 670.9,756.4 672.5,754.2 C674.1,752.1 677.1,752.5 678.8,753.8 C680.4,755.0 684.6,762.4 686.2,765.0 C687.9,767.6 690.7,774.6 692.5,775.5 C694.3,776.4 699.1,771.7 701.2,772.5 C703.4,773.3 708.2,781.9 710.0,782.5 C711.8,783.1 715.0,778.2 716.2,777.5 C717.5,776.8 718.6,777.6 720.0,777.0 C721.4,776.4 725.9,771.7 727.5,772.5 C729.1,773.3 731.6,781.0 733.8,783.8 C735.9,786.5 743.0,794.9 745.5,795.5 C748.0,796.1 752.9,789.9 755.0,788.8 C757.1,787.6 761.1,788.0 763.0,786.2 C764.9,784.5 769.1,775.7 770.5,774.5 C771.9,773.3 773.9,776.0 775.0,776.2 C776.1,776.5 778.3,776.1 779.5,777.0 C780.7,777.9 783.4,782.5 785.0,783.8 C786.6,785.0 790.9,786.0 792.5,787.5 C794.1,789.0 796.2,795.5 798.0,796.2 C799.8,797.0 805.0,795.2 807.5,793.8 C810.0,792.2 816.8,785.0 818.8,783.8 C820.7,782.5 822.5,782.6 823.8,783.0 C825.0,783.4 827.5,786.8 828.8,787.0 C830.0,787.2 833.0,784.2 834.5,784.5 C836.0,784.8 839.1,790.5 841.2,789.5 C843.4,788.5 850.0,778.0 852.0,776.2 C854.0,774.5 856.1,775.3 857.5,774.5 C858.9,773.7 862.5,770.3 863.8,769.5 C865.0,768.7 867.0,767.3 868.0,768.0 C869.0,768.7 870.4,775.1 872.0,775.5 C873.6,775.9 879.7,771.9 881.2,771.2 C882.8,770.6 883.6,771.6 885.0,770.5 C886.4,769.4 891.5,762.4 893.0,761.8 C894.5,761.1 895.9,764.5 897.5,765.0 C899.1,765.5 904.9,764.8 906.2,765.5 C907.6,766.2 908.0,769.5 908.8,770.5 C909.5,771.5 911.3,773.8 912.5,773.8 C913.7,773.8 917.1,771.2 918.8,770.5 C920.4,769.8 924.1,767.2 926.2,768.0 C928.4,768.8 934.3,776.7 936.2,777.5 C938.2,778.3 940.4,775.0 942.5,774.5 C944.6,774.0 951.6,774.6 953.8,773.8 C955.9,772.9 958.6,768.0 960.0,767.5 C961.4,767.0 963.0,770.2 965.0,769.5 C967.0,768.8 973.7,762.7 976.2,762.0 C978.8,761.3 984.2,763.6 986.2,763.8 C988.3,763.9 991.5,763.6 993.0,763.0 C994.5,762.4 997.6,759.4 998.8,758.8 C999.9,758.1 1000.9,759.8 1002.5,758.0 C1004.1,756.2 1010.0,745.3 1012.0,743.8 C1014.0,742.2 1016.9,746.0 1019.5,745.0 C1022.1,744.0 1031.4,736.6 1033.8,735.5 C1036.1,734.4 1037.2,736.1 1038.8,735.5 C1040.2,734.9 1044.8,731.3 1046.2,730.5 C1047.8,729.7 1049.5,729.8 1051.2,728.8 C1053.0,727.7 1058.8,722.7 1061.2,722.0 C1063.7,721.3 1069.5,723.2 1071.2,723.0 C1073.0,722.8 1074.9,721.5 1076.2,720.0 C1077.6,718.5 1081.0,711.9 1082.5,710.5 C1084.0,709.1 1087.2,708.2 1088.8,708.0 C1090.2,707.8 1092.5,709.6 1095.0,708.8 C1097.5,707.9 1107.6,701.8 1110.0,701.2 C1112.4,700.7 1113.5,704.5 1115.0,704.5 C1116.5,704.5 1120.6,700.6 1122.5,701.2 C1124.4,701.9 1128.1,709.0 1130.5,709.5 C1132.9,710.0 1140.3,706.0 1142.5,705.0 C1144.7,704.0 1147.2,702.5 1148.8,701.2 C1150.2,700.0 1153.7,695.7 1155.0,695.0 C1156.3,694.3 1157.9,696.2 1159.2,695.5 C1160.6,694.8 1164.8,689.3 1166.2,688.8 C1167.7,688.2 1169.6,691.5 1171.2,691.2 C1172.9,691.0 1178.3,687.5 1180.0,686.2 C1181.7,685.0 1183.8,681.6 1185.0,681.2 C1186.2,680.9 1188.7,682.6 1190.0,683.0 C1191.3,683.4 1194.6,685.1 1196.2,684.5 C1197.9,683.9 1202.2,678.9 1203.8,678.0 C1205.2,677.1 1207.4,677.7 1208.8,676.8 C1210.1,675.8 1213.7,671.9 1215.0,670.0 C1216.3,668.1 1217.8,662.5 1219.2,661.2 C1220.8,660.0 1225.8,660.5 1227.5,659.5 C1229.2,658.5 1232.5,653.0 1233.8,652.5 C1235.0,652.0 1236.3,653.3 1237.5,655.0 C1238.7,656.7 1242.1,665.8 1243.8,667.0 C1245.4,668.2 1249.8,665.1 1251.2,665.0 C1252.8,664.9 1254.5,666.8 1256.2,666.2 C1258.0,665.7 1264.0,661.9 1266.2,660.5 C1268.5,659.1 1273.3,655.3 1275.0,654.5 C1276.7,653.7 1278.7,653.5 1280.0,653.8 C1281.3,654.0 1284.6,656.5 1286.2,656.2 C1287.9,656.0 1291.8,652.0 1293.8,651.2 C1295.7,650.5 1300.1,650.9 1302.5,650.0 C1304.9,649.1 1311.7,644.5 1313.8,643.8 C1315.8,643.0 1318.6,643.1 1320.0,643.8 C1321.4,644.4 1324.2,649.7 1325.8,649.5 C1327.2,649.3 1330.9,642.5 1332.5,642.0 C1334.1,641.5 1337.1,645.7 1338.8,645.0 C1340.4,644.3 1344.8,637.2 1346.2,636.2 C1347.8,635.3 1349.9,636.5 1351.2,636.8 C1352.6,637.0 1355.2,639.2 1357.5,638.0 C1359.8,636.8 1367.8,629.5 1370.0,627.0 C1372.2,624.5 1374.8,619.2 1376.2,617.5 C1377.8,615.8 1380.7,612.6 1382.5,612.5 C1384.3,612.4 1389.5,616.4 1391.2,616.2 C1393.0,616.1 1396.3,611.9 1397.5,611.2 C1398.7,610.6 1400.0,611.2 1401.2,610.5 C1402.5,609.8 1405.5,605.1 1407.5,605.5 C1409.5,605.9 1415.2,613.1 1417.5,613.8 C1419.8,614.4 1424.5,610.9 1426.2,610.8 C1428.0,610.6 1430.5,613.3 1431.8,612.5 C1433.0,611.7 1435.6,604.1 1437.0,603.8 C1438.4,603.4 1441.9,609.2 1443.8,609.5 C1445.6,609.8 1451.2,607.1 1452.5,606.2 C1453.8,605.4 1453.2,604.2 1454.4,602.5 C1455.5,600.8 1460.5,593.4 1461.9,591.9 C1463.3,590.3 1465.0,589.9 1466.2,589.7 C1467.5,589.5 1470.6,590.8 1472.5,590.3 C1474.4,589.8 1480.2,586.9 1481.9,585.3 C1483.5,583.8 1485.2,578.9 1486.2,577.5 C1487.3,576.1 1490.2,575.3 1490.9,574.1 C1491.7,572.9 1492.0,568.2 1492.8,567.5 C1493.6,566.8 1496.2,567.4 1497.5,567.8 C1498.8,568.2 1502.1,571.5 1503.4,570.6 C1504.8,569.8 1507.4,562.7 1508.8,560.6 C1510.1,558.5 1513.2,554.9 1514.7,552.9 C1516.2,551.0 1520.5,545.7 1521.2,544.7" stroke="#30C058" stroke-width="5.2" stroke-linejoin="round"/>
<path class="l" d="M-6.0,949.1 C-5.3,948.0 -1.8,943.0 0.0,940.5 C1.8,938.0 6.8,930.5 8.8,928.0 C10.7,925.5 14.2,920.3 16.2,919.2 C18.4,918.2 24.0,919.9 26.2,919.2 C28.5,918.6 33.4,915.0 35.0,914.2 C36.6,913.5 37.9,912.0 39.5,913.0 C41.1,914.0 46.8,922.5 48.8,923.0 C50.7,923.5 53.9,917.4 55.5,916.8 C57.1,916.1 60.2,918.6 62.5,918.0 C64.8,917.4 73.0,913.2 75.0,911.8 C77.0,910.2 78.3,905.6 79.5,905.5 C80.7,905.4 83.0,910.4 85.0,910.5 C87.0,910.6 94.2,908.0 96.2,906.8 C98.3,905.5 100.8,901.2 102.5,900.5 C104.2,899.8 107.6,901.9 110.0,900.5 C112.4,899.1 120.2,890.9 122.5,889.2 C124.8,887.6 126.7,886.4 128.8,886.8 C130.8,887.1 137.1,892.0 139.5,892.5 C141.9,893.0 146.1,888.9 148.8,890.5 C151.4,892.1 159.0,904.0 161.2,905.5 C163.5,907.0 166.2,902.9 167.5,903.0 C168.8,903.1 171.3,906.6 172.5,906.8 C173.7,906.9 176.0,903.2 177.5,904.2 C179.0,905.3 183.5,914.5 185.0,915.5 C186.5,916.5 188.8,913.9 190.0,913.0 C191.2,912.1 193.9,909.0 195.0,908.0 C196.1,907.0 197.6,904.7 198.8,904.2 C199.9,903.8 202.6,902.8 205.0,904.2 C207.4,905.8 216.2,915.4 218.8,916.8 C221.3,918.1 224.2,916.7 226.2,915.5 C228.3,914.3 233.7,907.2 236.2,906.8 C238.8,906.3 245.2,911.8 247.5,911.8 C249.8,911.8 252.9,908.0 255.0,906.8 C257.1,905.5 262.8,902.0 265.0,901.8 C267.2,901.5 271.6,904.9 273.8,905.0 C275.9,905.1 280.9,901.7 282.5,902.5 C284.1,903.3 285.9,910.7 287.0,911.8 C288.1,912.8 290.3,910.9 291.2,911.0 C292.2,911.1 293.5,913.4 295.0,913.0 C296.5,912.6 300.3,910.0 303.8,908.0 C307.2,906.0 320.9,897.6 323.8,896.8 C326.6,895.9 324.8,901.2 327.5,900.5 C330.2,899.8 342.5,891.1 346.2,890.5 C350.0,889.9 356.4,895.2 358.8,895.5 C361.1,895.8 364.4,893.9 366.2,893.0 C368.1,892.1 372.2,888.1 373.8,888.0 C375.2,887.9 376.6,893.7 378.8,892.0 C380.9,890.3 389.1,875.9 391.2,873.8 C393.4,871.6 394.4,872.4 396.2,873.8 C398.1,875.1 404.9,884.4 406.8,885.0 C408.6,885.6 410.1,879.8 411.2,878.8 C412.4,877.7 414.9,877.6 416.2,876.2 C417.6,874.9 420.7,868.9 422.5,867.5 C424.3,866.1 429.8,864.9 431.2,865.0 C432.7,865.1 433.3,868.0 434.5,868.0 C435.7,868.0 439.4,866.6 441.2,865.0 C443.1,863.4 448.4,856.2 450.0,855.0 C451.6,853.8 453.9,855.7 455.0,855.0 C456.1,854.3 458.1,849.8 459.5,849.2 C460.9,848.7 464.1,851.0 466.2,850.5 C468.4,850.0 475.4,847.0 477.5,845.0 C479.6,843.0 482.6,835.2 483.8,833.8 C484.9,832.3 486.4,832.5 487.5,833.0 C488.6,833.5 491.1,836.0 492.5,837.5 C493.9,839.0 497.6,844.5 498.8,845.5 C499.9,846.5 501.3,846.6 502.5,846.2 C503.7,845.9 507.3,843.2 508.8,842.5 C510.2,841.8 513.2,839.8 514.5,840.0 C515.8,840.2 518.2,843.8 519.5,844.5 C520.8,845.2 524.3,845.2 525.5,846.2 C526.7,847.3 527.8,853.1 529.5,853.2 C531.2,853.4 537.5,849.7 540.0,847.5 C542.5,845.3 547.8,837.5 550.0,835.0 C552.2,832.5 557.1,827.1 558.8,826.2 C560.4,825.4 562.2,828.5 563.8,827.5 C565.2,826.5 569.6,820.5 571.2,817.5 C572.9,814.5 576.0,806.2 577.5,802.5 C579.0,798.8 582.3,789.0 583.8,786.2 C585.2,783.5 588.1,780.4 589.5,779.5 C590.9,778.6 594.4,777.6 595.8,778.8 C597.1,779.9 599.2,785.9 600.5,788.8 C601.8,791.6 605.0,800.2 606.2,802.5 C607.5,804.8 610.2,806.8 611.2,807.5 C612.3,808.2 613.2,809.0 615.0,808.2 C616.8,807.5 624.1,801.8 626.2,801.2 C628.4,800.7 631.0,804.6 632.5,803.8 C634.0,802.9 637.1,795.7 638.8,794.2 C640.4,792.8 644.5,793.5 646.2,791.8 C648.0,790.0 651.5,782.5 653.8,780.0 C656.0,777.5 662.8,774.3 665.0,771.2 C667.2,768.2 670.9,756.4 672.5,754.2 C674.1,752.1 677.1,752.5 678.8,753.8 C680.4,755.0 684.6,762.4 686.2,765.0 C687.9,767.6 690.7,774.6 692.5,775.5 C694.3,776.4 699.1,771.7 701.2,772.5 C703.4,773.3 708.2,781.9 710.0,782.5 C711.8,783.1 715.0,778.2 716.2,777.5 C717.5,776.8 718.6,777.6 720.0,777.0 C721.4,776.4 725.9,771.7 727.5,772.5 C729.1,773.3 731.6,781.0 733.8,783.8 C735.9,786.5 743.0,794.9 745.5,795.5 C748.0,796.1 752.9,789.9 755.0,788.8 C757.1,787.6 761.1,788.0 763.0,786.2 C764.9,784.5 769.1,775.7 770.5,774.5 C771.9,773.3 773.9,776.0 775.0,776.2 C776.1,776.5 778.3,776.1 779.5,777.0 C780.7,777.9 783.4,782.5 785.0,783.8 C786.6,785.0 790.9,786.0 792.5,787.5 C794.1,789.0 796.2,795.5 798.0,796.2 C799.8,797.0 805.0,795.2 807.5,793.8 C810.0,792.2 816.8,785.0 818.8,783.8 C820.7,782.5 822.5,782.6 823.8,783.0 C825.0,783.4 827.5,786.8 828.8,787.0 C830.0,787.2 833.0,784.2 834.5,784.5 C836.0,784.8 839.1,790.5 841.2,789.5 C843.4,788.5 850.0,778.0 852.0,776.2 C854.0,774.5 856.1,775.3 857.5,774.5 C858.9,773.7 862.5,770.3 863.8,769.5 C865.0,768.7 867.0,767.3 868.0,768.0 C869.0,768.7 870.4,775.1 872.0,775.5 C873.6,775.9 879.7,771.9 881.2,771.2 C882.8,770.6 883.6,771.6 885.0,770.5 C886.4,769.4 891.5,762.4 893.0,761.8 C894.5,761.1 895.9,764.5 897.5,765.0 C899.1,765.5 904.9,764.8 906.2,765.5 C907.6,766.2 908.0,769.5 908.8,770.5 C909.5,771.5 911.3,773.8 912.5,773.8 C913.7,773.8 917.1,771.2 918.8,770.5 C920.4,769.8 924.1,767.2 926.2,768.0 C928.4,768.8 934.3,776.7 936.2,777.5 C938.2,778.3 940.4,775.0 942.5,774.5 C944.6,774.0 951.6,774.6 953.8,773.8 C955.9,772.9 958.6,768.0 960.0,767.5 C961.4,767.0 963.0,770.2 965.0,769.5 C967.0,768.8 973.7,762.7 976.2,762.0 C978.8,761.3 984.2,763.6 986.2,763.8 C988.3,763.9 991.5,763.6 993.0,763.0 C994.5,762.4 997.6,759.4 998.8,758.8 C999.9,758.1 1000.9,759.8 1002.5,758.0 C1004.1,756.2 1010.0,745.3 1012.0,743.8 C1014.0,742.2 1016.9,746.0 1019.5,745.0 C1022.1,744.0 1031.4,736.6 1033.8,735.5 C1036.1,734.4 1037.2,736.1 1038.8,735.5 C1040.2,734.9 1044.8,731.3 1046.2,730.5 C1047.8,729.7 1049.5,729.8 1051.2,728.8 C1053.0,727.7 1058.8,722.7 1061.2,722.0 C1063.7,721.3 1069.5,723.2 1071.2,723.0 C1073.0,722.8 1074.9,721.5 1076.2,720.0 C1077.6,718.5 1081.0,711.9 1082.5,710.5 C1084.0,709.1 1087.2,708.2 1088.8,708.0 C1090.2,707.8 1092.5,709.6 1095.0,708.8 C1097.5,707.9 1107.6,701.8 1110.0,701.2 C1112.4,700.7 1113.5,704.5 1115.0,704.5 C1116.5,704.5 1120.6,700.6 1122.5,701.2 C1124.4,701.9 1128.1,709.0 1130.5,709.5 C1132.9,710.0 1140.3,706.0 1142.5,705.0 C1144.7,704.0 1147.2,702.5 1148.8,701.2 C1150.2,700.0 1153.7,695.7 1155.0,695.0 C1156.3,694.3 1157.9,696.2 1159.2,695.5 C1160.6,694.8 1164.8,689.3 1166.2,688.8 C1167.7,688.2 1169.6,691.5 1171.2,691.2 C1172.9,691.0 1178.3,687.5 1180.0,686.2 C1181.7,685.0 1183.8,681.6 1185.0,681.2 C1186.2,680.9 1188.7,682.6 1190.0,683.0 C1191.3,683.4 1194.6,685.1 1196.2,684.5 C1197.9,683.9 1202.2,678.9 1203.8,678.0 C1205.2,677.1 1207.4,677.7 1208.8,676.8 C1210.1,675.8 1213.7,671.9 1215.0,670.0 C1216.3,668.1 1217.8,662.5 1219.2,661.2 C1220.8,660.0 1225.8,660.5 1227.5,659.5 C1229.2,658.5 1232.5,653.0 1233.8,652.5 C1235.0,652.0 1236.3,653.3 1237.5,655.0 C1238.7,656.7 1242.1,665.8 1243.8,667.0 C1245.4,668.2 1249.8,665.1 1251.2,665.0 C1252.8,664.9 1254.5,666.8 1256.2,666.2 C1258.0,665.7 1264.0,661.9 1266.2,660.5 C1268.5,659.1 1273.3,655.3 1275.0,654.5 C1276.7,653.7 1278.7,653.5 1280.0,653.8 C1281.3,654.0 1284.6,656.5 1286.2,656.2 C1287.9,656.0 1291.8,652.0 1293.8,651.2 C1295.7,650.5 1300.1,650.9 1302.5,650.0 C1304.9,649.1 1311.7,644.5 1313.8,643.8 C1315.8,643.0 1318.6,643.1 1320.0,643.8 C1321.4,644.4 1324.2,649.7 1325.8,649.5 C1327.2,649.3 1330.9,642.5 1332.5,642.0 C1334.1,641.5 1337.1,645.7 1338.8,645.0 C1340.4,644.3 1344.8,637.2 1346.2,636.2 C1347.8,635.3 1349.9,636.5 1351.2,636.8 C1352.6,637.0 1355.2,639.2 1357.5,638.0 C1359.8,636.8 1367.8,629.5 1370.0,627.0 C1372.2,624.5 1374.8,619.2 1376.2,617.5 C1377.8,615.8 1380.7,612.6 1382.5,612.5 C1384.3,612.4 1389.5,616.4 1391.2,616.2 C1393.0,616.1 1396.3,611.9 1397.5,611.2 C1398.7,610.6 1400.0,611.2 1401.2,610.5 C1402.5,609.8 1405.5,605.1 1407.5,605.5 C1409.5,605.9 1415.2,613.1 1417.5,613.8 C1419.8,614.4 1424.5,610.9 1426.2,610.8 C1428.0,610.6 1430.5,613.3 1431.8,612.5 C1433.0,611.7 1435.6,604.1 1437.0,603.8 C1438.4,603.4 1441.9,609.2 1443.8,609.5 C1445.6,609.8 1451.2,607.1 1452.5,606.2 C1453.8,605.4 1453.2,604.2 1454.4,602.5 C1455.5,600.8 1460.5,593.4 1461.9,591.9 C1463.3,590.3 1465.0,589.9 1466.2,589.7 C1467.5,589.5 1470.6,590.8 1472.5,590.3 C1474.4,589.8 1480.2,586.9 1481.9,585.3 C1483.5,583.8 1485.2,578.9 1486.2,577.5 C1487.3,576.1 1490.2,575.3 1490.9,574.1 C1491.7,572.9 1492.0,568.2 1492.8,567.5 C1493.6,566.8 1496.2,567.4 1497.5,567.8 C1498.8,568.2 1502.1,571.5 1503.4,570.6 C1504.8,569.8 1507.4,562.7 1508.8,560.6 C1510.1,558.5 1513.2,554.9 1514.7,552.9 C1516.2,551.0 1520.5,545.7 1521.2,544.7" stroke="#5ED083" stroke-width="3.4" stroke-linejoin="round"/>
<path class="l" d="M-6.0,924.3 L0.0,912.0 L6.0,899.7 L10.3,896.5 L15.7,886.0 L20.6,863.8 L23.1,861.9 L30.0,857.5 L36.2,840.0 L43.1,836.2 L49.4,858.8 L51.9,861.2 L58.8,856.2 L63.8,860.0 L68.1,860.6 L77.5,837.5 L80.6,836.2 L85.6,845.0 L90.0,841.2 L95.0,816.2 L102.5,806.2 L107.5,785.0 L117.5,794.4 L121.9,793.5 L129.4,803.8 L135.0,799.4 L141.2,801.9 L148.1,798.8 L155.0,812.5 L161.9,832.5 L170.0,825.0 L177.5,840.0 L184.4,846.2 L193.8,831.2 L196.2,833.8 L202.5,826.2 L211.2,832.5 L216.2,831.2 L222.5,845.0 L231.2,831.2 L236.2,833.8 L243.8,822.5 L251.2,832.5 L256.2,833.8 L263.8,823.8 L270.0,826.2 L278.8,807.5 L281.2,810.0 L287.5,826.2 L296.2,808.8 L303.8,821.2 L308.8,807.5 L313.8,802.5 L320.0,808.8 L325.0,810.0 L331.2,808.8 L333.8,811.2 L338.8,806.2 L343.8,795.0 L351.2,802.5 L355.0,793.8 L361.2,792.5 L367.0,782.5 L376.2,793.8 L383.8,786.2 L390.0,761.2 L395.5,767.5 L403.0,758.8 L408.0,771.2 L415.0,760.0 L425.0,737.5 L431.2,735.0 L439.2,725.0 L446.2,735.0 L453.8,725.0 L461.8,700.0 L468.8,692.5 L476.2,702.5 L482.5,686.2 L489.2,680.0 L495.0,690.0 L503.8,683.8 L512.0,668.8 L518.0,675.0 L523.0,659.5 L527.0,657.0 L532.5,673.8 L541.8,683.8 L547.0,671.2 L552.5,678.8 L557.5,670.0 L562.5,666.2 L566.2,647.5 L572.5,648.8 L578.8,621.2 L583.8,620.0 L590.0,601.2 L598.0,581.2 L603.8,588.8 L610.0,572.5 L615.0,563.8 L620.5,567.5 L626.8,558.8 L634.2,573.8 L643.8,565.0 L650.0,575.0 L659.2,558.8 L671.2,568.8 L677.5,560.0 L685.0,567.5 L690.0,563.8 L695.0,553.8 L701.8,558.8 L706.2,548.8 L711.2,546.2 L716.2,531.2 L722.5,517.5 L735.0,525.0 L743.0,505.0 L748.8,510.0 L755.5,521.2 L759.2,512.5 L766.2,527.5 L770.0,527.5 L775.0,523.8 L782.5,530.0 L785.5,521.2 L790.0,521.2 L795.0,523.8 L802.5,510.0 L811.2,502.5 L818.8,508.8 L825.0,515.0 L833.8,508.8 L837.5,510.0 L842.5,500.0 L847.5,497.5 L852.5,473.8 L857.5,471.2 L863.8,448.1 L871.9,460.0 L877.5,451.3 L883.8,450.6 L889.4,444.4 L895.6,428.1 L900.0,437.5 L905.6,446.3 L911.9,437.5 L919.4,440.0 L924.4,435.0 L928.1,443.8 L935.0,455.3 L939.4,445.0 L944.4,443.8 L951.3,454.4 L956.2,451.3 L961.9,443.1 L967.5,443.1 L973.1,436.3 L985.0,448.1 L993.8,436.9 L999.0,443.8 L1005.0,433.8 L1009.4,431.9 L1013.0,421.9 L1016.2,410.6 L1021.2,406.9 L1027.5,402.5 L1031.2,393.8 L1040.0,380.0 L1047.5,380.0 L1051.2,371.2 L1057.5,367.5 L1065.0,357.5 L1070.0,342.5 L1074.2,350.0 L1078.0,346.2 L1084.2,330.0 L1088.8,331.2 L1093.0,336.2 L1100.8,315.0 L1110.0,328.8 L1116.2,325.0 L1125.0,308.8 L1130.0,306.2 L1135.0,296.2 L1144.5,308.8 L1155.0,298.8 L1158.8,292.5 L1163.2,273.8 L1169.0,271.2 L1170.8,250.0 L1175.8,240.0 L1184.0,253.8 L1190.8,238.8 L1197.0,241.2 L1200.0,233.8 L1205.8,237.5 L1213.2,252.5 L1218.2,245.0 L1224.5,225.0 L1228.2,220.0 L1233.2,217.5 L1239.5,198.8 L1245.2,183.8 L1254.5,200.0 L1259.5,215.0 L1264.5,197.5 L1267.5,198.8 L1273.8,217.5 L1282.0,206.2 L1288.2,190.0 L1293.8,182.5 L1300.2,191.2 L1307.0,181.2 L1312.0,182.5 L1319.0,186.2 L1327.0,175.0 L1330.8,163.8 L1339.0,170.0 L1344.5,158.8 L1350.8,167.5 L1355.8,156.2 L1362.8,137.5 L1370.8,146.2 L1377.0,142.5 L1381.2,148.8 L1388.2,130.0 L1394.5,133.8 L1399.5,132.5 L1404.5,118.8 L1409.5,112.5 L1419.5,122.5 L1428.8,108.8 L1437.0,116.2 L1444.5,108.8 L1449.5,105.0 L1453.2,91.2 L1457.0,87.5 L1464.5,90.0 L1472.5,75.3 L1478.8,78.1 L1484.7,84.4 L1496.6,50.9 L1502.8,56.2 L1510.6,40.9 L1514.7,35.8 L1521.2,27.2" stroke="#0B47AB" stroke-width="7.8" stroke-linejoin="round"/>
<path class="l" d="M-6.0,924.3 L0.0,912.0 L6.0,899.7 L10.3,896.5 L15.7,886.0 L20.6,863.8 L23.1,861.9 L30.0,857.5 L36.2,840.0 L43.1,836.2 L49.4,858.8 L51.9,861.2 L58.8,856.2 L63.8,860.0 L68.1,860.6 L77.5,837.5 L80.6,836.2 L85.6,845.0 L90.0,841.2 L95.0,816.2 L102.5,806.2 L107.5,785.0 L117.5,794.4 L121.9,793.5 L129.4,803.8 L135.0,799.4 L141.2,801.9 L148.1,798.8 L155.0,812.5 L161.9,832.5 L170.0,825.0 L177.5,840.0 L184.4,846.2 L193.8,831.2 L196.2,833.8 L202.5,826.2 L211.2,832.5 L216.2,831.2 L222.5,845.0 L231.2,831.2 L236.2,833.8 L243.8,822.5 L251.2,832.5 L256.2,833.8 L263.8,823.8 L270.0,826.2 L278.8,807.5 L281.2,810.0 L287.5,826.2 L296.2,808.8 L303.8,821.2 L308.8,807.5 L313.8,802.5 L320.0,808.8 L325.0,810.0 L331.2,808.8 L333.8,811.2 L338.8,806.2 L343.8,795.0 L351.2,802.5 L355.0,793.8 L361.2,792.5 L367.0,782.5 L376.2,793.8 L383.8,786.2 L390.0,761.2 L395.5,767.5 L403.0,758.8 L408.0,771.2 L415.0,760.0 L425.0,737.5 L431.2,735.0 L439.2,725.0 L446.2,735.0 L453.8,725.0 L461.8,700.0 L468.8,692.5 L476.2,702.5 L482.5,686.2 L489.2,680.0 L495.0,690.0 L503.8,683.8 L512.0,668.8 L518.0,675.0 L523.0,659.5 L527.0,657.0 L532.5,673.8 L541.8,683.8 L547.0,671.2 L552.5,678.8 L557.5,670.0 L562.5,666.2 L566.2,647.5 L572.5,648.8 L578.8,621.2 L583.8,620.0 L590.0,601.2 L598.0,581.2 L603.8,588.8 L610.0,572.5 L615.0,563.8 L620.5,567.5 L626.8,558.8 L634.2,573.8 L643.8,565.0 L650.0,575.0 L659.2,558.8 L671.2,568.8 L677.5,560.0 L685.0,567.5 L690.0,563.8 L695.0,553.8 L701.8,558.8 L706.2,548.8 L711.2,546.2 L716.2,531.2 L722.5,517.5 L735.0,525.0 L743.0,505.0 L748.8,510.0 L755.5,521.2 L759.2,512.5 L766.2,527.5 L770.0,527.5 L775.0,523.8 L782.5,530.0 L785.5,521.2 L790.0,521.2 L795.0,523.8 L802.5,510.0 L811.2,502.5 L818.8,508.8 L825.0,515.0 L833.8,508.8 L837.5,510.0 L842.5,500.0 L847.5,497.5 L852.5,473.8 L857.5,471.2 L863.8,448.1 L871.9,460.0 L877.5,451.3 L883.8,450.6 L889.4,444.4 L895.6,428.1 L900.0,437.5 L905.6,446.3 L911.9,437.5 L919.4,440.0 L924.4,435.0 L928.1,443.8 L935.0,455.3 L939.4,445.0 L944.4,443.8 L951.3,454.4 L956.2,451.3 L961.9,443.1 L967.5,443.1 L973.1,436.3 L985.0,448.1 L993.8,436.9 L999.0,443.8 L1005.0,433.8 L1009.4,431.9 L1013.0,421.9 L1016.2,410.6 L1021.2,406.9 L1027.5,402.5 L1031.2,393.8 L1040.0,380.0 L1047.5,380.0 L1051.2,371.2 L1057.5,367.5 L1065.0,357.5 L1070.0,342.5 L1074.2,350.0 L1078.0,346.2 L1084.2,330.0 L1088.8,331.2 L1093.0,336.2 L1100.8,315.0 L1110.0,328.8 L1116.2,325.0 L1125.0,308.8 L1130.0,306.2 L1135.0,296.2 L1144.5,308.8 L1155.0,298.8 L1158.8,292.5 L1163.2,273.8 L1169.0,271.2 L1170.8,250.0 L1175.8,240.0 L1184.0,253.8 L1190.8,238.8 L1197.0,241.2 L1200.0,233.8 L1205.8,237.5 L1213.2,252.5 L1218.2,245.0 L1224.5,225.0 L1228.2,220.0 L1233.2,217.5 L1239.5,198.8 L1245.2,183.8 L1254.5,200.0 L1259.5,215.0 L1264.5,197.5 L1267.5,198.8 L1273.8,217.5 L1282.0,206.2 L1288.2,190.0 L1293.8,182.5 L1300.2,191.2 L1307.0,181.2 L1312.0,182.5 L1319.0,186.2 L1327.0,175.0 L1330.8,163.8 L1339.0,170.0 L1344.5,158.8 L1350.8,167.5 L1355.8,156.2 L1362.8,137.5 L1370.8,146.2 L1377.0,142.5 L1381.2,148.8 L1388.2,130.0 L1394.5,133.8 L1399.5,132.5 L1404.5,118.8 L1409.5,112.5 L1419.5,122.5 L1428.8,108.8 L1437.0,116.2 L1444.5,108.8 L1449.5,105.0 L1453.2,91.2 L1457.0,87.5 L1464.5,90.0 L1472.5,75.3 L1478.8,78.1 L1484.7,84.4 L1496.6,50.9 L1502.8,56.2 L1510.6,40.9 L1514.7,35.8 L1521.2,27.2" stroke="#0D5FB5" stroke-width="6.0" stroke-linejoin="miter" stroke-miterlimit="4"/>
</g>
</svg>
</body>
</html>
